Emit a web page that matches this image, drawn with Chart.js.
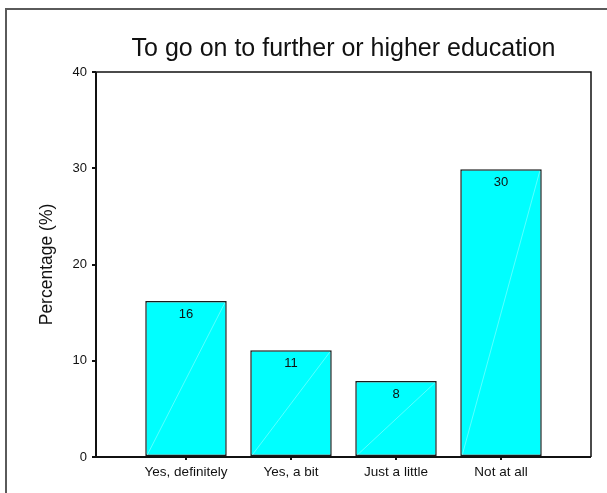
<!DOCTYPE html>
<html>
<head>
<meta charset="utf-8">
<script src="https://cdn.jsdelivr.net/npm/chart.js@4/dist/chart.umd.min.js"></script>
<style>
  html, body { margin: 0; padding: 0; background: #ffffff; }
  #wrap { position: relative; width: 607px; height: 493px; overflow: hidden; }
  #frame { position: absolute; left: 5px; top: 8px; width: 700px; height: 600px;
           border-left: 2px solid #5a5a5a; border-top: 2px solid #5a5a5a; }
  canvas { position: absolute; left: 0; top: 0; }
</style>
</head>
<body>
<div id="wrap">
  <div id="frame"></div>
  <canvas id="c" width="607" height="493"></canvas>
</div>
<script>
// ---- data ----
const categories = ["Yes, definitely", "Yes, a bit", "Just a little", "Not at all"];
const percentages = [16.2, 11.1, 7.9, 29.9];
const valueLabels = ["16", "11", "8", "30"];
const yTicks = [0, 10, 20, 30, 40];
const chartTitle = "To go on to further or higher education";
const yTitle = "Percentage (%)";

const FONT = "Arial, 'Liberation Sans', sans-serif";

const barExtras = {
  id: 'barExtras',
  afterDatasetsDraw(chart) {
    const ctx = chart.ctx;
    const meta = chart.getDatasetMeta(0);
    ctx.save();
    meta.data.forEach((bar, i) => {
      const left = bar.x - bar.width / 2, right = bar.x + bar.width / 2;
      // faint diagonal highlight
      ctx.strokeStyle = 'rgba(255,255,255,0.35)';
      ctx.lineWidth = 1;
      ctx.beginPath();
      ctx.moveTo(left + 2, bar.base - 1);
      ctx.lineTo(right - 2, bar.y + 2);
      ctx.stroke();
      // value label
      ctx.fillStyle = '#111';
      ctx.font = '13px ' + FONT;
      ctx.textAlign = 'center';
      ctx.textBaseline = 'middle';
      ctx.fillText(valueLabels[i], bar.x, bar.y + 13);
    });
    // plot frame
    const a = chart.chartArea;
    ctx.strokeStyle = '#111';
    ctx.lineWidth = 1.5;
    ctx.beginPath();
    ctx.moveTo(a.left, a.top);
    ctx.lineTo(a.right, a.top);
    ctx.lineTo(a.right, a.bottom);
    ctx.stroke();
    ctx.lineWidth = 2;
    ctx.beginPath();
    ctx.moveTo(a.left, a.top);
    ctx.lineTo(a.left, a.bottom);
    ctx.lineTo(a.right, a.bottom);
    ctx.stroke();
    ctx.restore();
  }
};

new Chart(document.getElementById('c'), {
  type: 'bar',
  data: {
    datasets: [{
      data: categories.map((c, i) => ({ x: i + 1, y: percentages[i] })),
      backgroundColor: '#00ffff',
      borderColor: '#1a1a1a',
      borderWidth: 1.5,
      borderSkipped: false,
      categoryPercentage: 1,
      barPercentage: 0.776
    }]
  },
  options: {
    responsive: false,
    animation: false,
    events: [],
    layout: { padding: { left: 0, right: 16, top: 0, bottom: 0 } },
    plugins: {
      legend: { display: false },
      tooltip: { enabled: false },
      title: {
        display: true,
        text: chartTitle,
        fullSize: false,
        color: '#111',
        font: { family: FONT, size: 25, weight: 'normal' },
        padding: { top: 34, bottom: 8 }
      }
    },
    scales: {
      x: {
        type: 'linear',
        offset: false,
        min: 0.143,
        max: 4.857,
        afterBuildTicks: (s) => { s.ticks = categories.map((c, i) => ({ value: i + 1 })); },
        afterFit: (s) => { s.height = 36; },
        grid: { offset: false, drawOnChartArea: false, drawTicks: true, tickLength: 3, color: '#111', lineWidth: 2 },
        border: { display: false },
        ticks: {
          autoSkip: false,
          maxRotation: 0,
          padding: 4,
          color: '#111',
          font: { family: FONT, size: 13.5 },
          callback: (v) => categories[Math.round(v) - 1] || ''
        }
      },
      y: {
        min: 0,
        max: 40,
        afterBuildTicks: (s) => { s.ticks = yTicks.map(v => ({ value: v })); },
        afterFit: (s) => { s.width = 96; },
        grid: { drawOnChartArea: false, drawTicks: true, tickLength: 4, color: '#111', lineWidth: 2 },
        border: { display: false },
        ticks: {
          padding: 5,
          color: '#111',
          font: { family: FONT, size: 13 }
        },
        title: {
          display: true,
          text: yTitle,
          color: '#111',
          font: { family: FONT, size: 17.5 },
          padding: { top: 37, bottom: 0 }
        }
      }
    }
  },
  plugins: [barExtras]
});
</script>
</body>
</html>
